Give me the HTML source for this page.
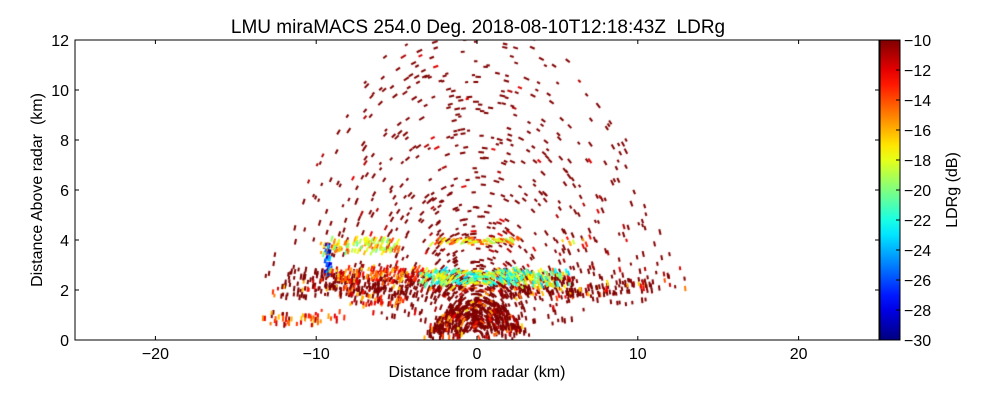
<!DOCTYPE html>
<html><head><meta charset="utf-8">
<style>
html,body{margin:0;padding:0;background:#fff;width:1000px;height:400px;overflow:hidden;font-family:"Liberation Sans",sans-serif;}
#wrap{position:relative;width:1000px;height:400px;}
canvas{position:absolute;left:0;top:0;}
svg{position:absolute;left:0;top:0;}
</style></head><body>
<div id="wrap">
<canvas id="cv" width="1000" height="400"></canvas>
<svg id="sv" width="1000" height="400"></svg>
</div>
<script>
// ---- data (km / dB) ----
const xTicks=[-20,-10,0,10,20];
const yTicks=[0,2,4,6,8,10,12];
const cbTicks=[-10,-12,-14,-16,-18,-20,-22,-24,-26,-28,-30];
const layerXmin=[-13.5,-4,-10,-3,-3.5,-13.5,-9.5,-8,5,-10];
const layerXmax=[13.2,6,-4,3,3.5,-8,-9.0,-4,7,-3];
const layerYmin=[1.6,2.1,3.4,3.8,0,0.5,2.5,1.3,3.8,2.3];
const layerYmax=[2.9,2.9,4.1,4.1,1.9,1.2,4.0,1.8,4.1,3.0];
const layerLdr=[-11,-20,-17,-16,-10.5,-13,-27,-13,-15,-14];
const layerDensity=[0.42,0.75,0.45,0.65,1.1,0.28,0.7,0.35,0.4,0.45];
const title="LMU miraMACS 254.0 Deg. 2018-08-10T12:18:43Z\u00a0\u00a0LDRg";

const X0=75,X1=879,Y0=40,Y1=340;
const xs=v=>X0+(v+25)/50*(X1-X0);
const ys=v=>Y1-v/12*(Y1-Y0);
function jet(t){t=Math.max(0,Math.min(1,t));
 const r=Math.max(0,Math.min(1,1.5-Math.abs(4*t-3))),g=Math.max(0,Math.min(1,1.5-Math.abs(4*t-2))),b=Math.max(0,Math.min(1,1.5-Math.abs(4*t-1)));
 return `rgb(${r*255|0},${g*255|0},${b*255|0})`;}
const ldrT=v=>(v+30)/20;
let s=12345;function rnd(){s|=0;s=s+0x6D2B79F5|0;let t=Math.imul(s^s>>>15,1|s);t=t+Math.imul(t^t>>>7,61|t)^t;return((t^t>>>14)>>>0)/4294967296;}

const cv=document.getElementById('cv'),c=cv.getContext('2d');
c.save();c.beginPath();c.rect(X0,Y0,X1-X0,Y1-Y0);c.clip();
c.lineCap='butt';
function dash(x,y,len,col){
 const r=Math.hypot(x,y)||1;
 let tx=-y/r*16.08,ty=-(x/r)*25;
 const m=Math.hypot(tx,ty)||1;tx/=m;ty/=m;
 const px=xs(x),py=ys(y);
 c.strokeStyle=col;c.lineWidth=2;c.beginPath();
 c.moveTo(px-tx*len/2,py-ty*len/2);c.lineTo(px+tx*len/2,py+ty*len/2);c.stroke();}
// sparse outer speckle
for(let a=8;a<=172;a+=0.8){const th=a*Math.PI/180;
 const rmax=11.8+1.0*Math.sin(th)+(a<20||a>160?1.0:0);
 for(let r=2+rnd()*0.2;r<rmax;r+=0.15+rnd()*0.1){ if(rnd()<0.075){const rr=r+rnd()*0.1;dash(rr*Math.cos(th),rr*Math.sin(th),3+rnd()*3,rnd()<0.88?'#800000':(rnd()<0.5?'#b00000':'#e00000'));}}}
// layers (ragged edges)
for(let i=0;i<layerXmin.length;i++){
 const w=layerXmax[i]-layerXmin[i],h=layerYmax[i]-layerYmin[i];
 const n=Math.round(w*h*90*layerDensity[i]);
 for(let k=0;k<n;k++){
  let x=layerXmin[i]+rnd()*w,y=layerYmin[i]+rnd()*h;
  if(i===4){const half=3.4*(1-y/2.2);if(Math.abs(x)>half+0.3)continue;}
  if(i===0&&x>6){ if(y>2.1+(x-6)*0.09 || y<1.7+(x-6)*0.05)continue;}
  // thin out near edges
  const ex=Math.min(x-layerXmin[i],layerXmax[i]-x)/w, ey=Math.min(y-layerYmin[i],layerYmax[i]-y)/h;
  if(Math.min(ex*4,ey*3)<rnd()*0.8)continue;
  let v=layerLdr[i]+(rnd()-0.5)*7;
  if(i===0||i===4) v=rnd()<0.75?-10:-10-rnd()*7;
  dash(x,y,3+rnd()*3,jet(ldrT(v)));
 }}
c.restore();

// ---- SVG frame ----
const sv=document.getElementById('sv'),NS='http://www.w3.org/2000/svg';
function el(tag,at,txt){const e=document.createElementNS(NS,tag);for(const k in at)e.setAttribute(k,at[k]);if(txt!=null)e.textContent=txt;sv.appendChild(e);return e;}
let e;
e=el('rect',{x:X0,y:Y0,width:X1-X0,height:Y1-Y0,fill:'none',stroke:'#000','stroke-width':1});

xTicks.forEach(v=>{const x=xs(v);
 el('line',{x1:x,x2:x,y1:Y1,y2:Y1-4,stroke:'#000'});el('line',{x1:x,x2:x,y1:Y0,y2:Y0+4,stroke:'#000'});
 e=el('text',{x:x,y:Y1+19,'text-anchor':'middle','font-size':16},v<0?'\u2212'+(-v):v);
 });
yTicks.forEach(v=>{const y=ys(v);
 el('line',{x1:X0,x2:X0+4,y1:y,y2:y,stroke:'#000'});el('line',{x1:X1,x2:X1-4,y1:y,y2:y,stroke:'#000'});
 e=el('text',{x:X0-6,y:y+6,'text-anchor':'end','font-size':16},v);
 });
e=el('text',{x:477,y:377,'text-anchor':'middle','font-size':16},'Distance from radar (km)');

e=el('text',{x:0,y:0,'text-anchor':'middle','font-size':16,transform:'translate(42,190) rotate(-90)'},'Distance Above radar\u00a0\u00a0(km)');

e=el('text',{x:478,y:33,'text-anchor':'middle','font-size':19},title);

// colorbar
const CX=880,CW=20;
const defs=el('defs',{});const g=document.createElementNS(NS,'linearGradient');
g.setAttribute('id','jg');g.setAttribute('x1','0');g.setAttribute('y1','1');g.setAttribute('x2','0');g.setAttribute('y2','0');defs.appendChild(g);
for(let i=0;i<=20;i++){const st=document.createElementNS(NS,'stop');st.setAttribute('offset',i/20);st.setAttribute('stop-color',jet(i/20));g.appendChild(st);}
e=el('rect',{x:CX,y:Y0,width:CW,height:Y1-Y0,fill:'url(#jg)',stroke:'#000'});

cbTicks.forEach(v=>{const y=Y0+(-10-v)/20*(Y1-Y0);
 el('line',{x1:CX+CW,x2:CX+CW-4,y1:y,y2:y,stroke:'#000'});
 e=el('text',{x:CX+CW+4,y:y+6,'font-size':16},'\u2212'+(-v));
 });
e=el('text',{x:0,y:0,'text-anchor':'middle','font-size':16,transform:'translate(957,190) rotate(-90)'},'LDRg (dB)');

</script>
</body></html>
